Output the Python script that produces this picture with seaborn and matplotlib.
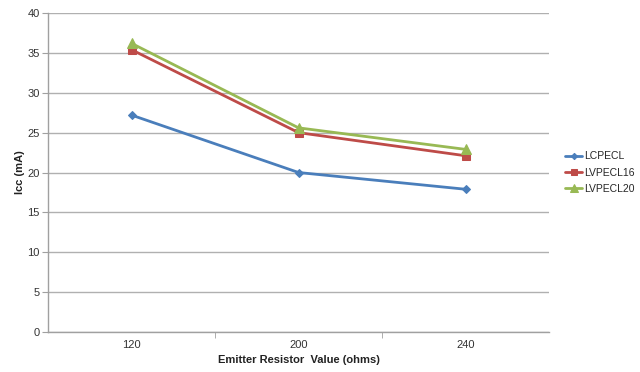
import seaborn as sns
import matplotlib.pyplot as plt
import pandas as pd

sns.set_style('white')
plt.rcParams['font.family'] = ['Liberation Sans', 'DejaVu Sans']

resistors = ['120', '200', '240']
lcpecl = [27.2, 20.0, 17.9]
lvpecl16 = [35.4, 25.0, 22.1]
lvpecl20 = [36.2, 25.6, 22.9]

series = {'LCPECL': lcpecl, 'LVPECL16': lvpecl16, 'LVPECL20': lvpecl20}
rows = []
for name, vals in series.items():
    for i, v in enumerate(vals):
        rows.append({'pos': i, 'Icc': v, 'series': name})
df = pd.DataFrame(rows)

colors = {'LCPECL': '#4A7EBB', 'LVPECL16': '#BE4B48', 'LVPECL20': '#98B954'}
markers = {'LCPECL': 'D', 'LVPECL16': 's', 'LVPECL20': '^'}
msize = {'LCPECL': 4, 'LVPECL16': 6, 'LVPECL20': 6.5}

fig = plt.figure(figsize=(6.4, 3.72), dpi=100)
ax = fig.add_axes([0.075, 0.1075, 0.783, 0.8575])

for name in series:
    sub = df[df.series == name]
    sns.lineplot(data=sub, x='pos', y='Icc', ax=ax, color=colors[name],
                 marker=markers[name], markersize=msize[name], linewidth=2,
                 markeredgecolor=colors[name], label=name)

ax.set_xlim(-0.5, 2.5)
ax.set_ylim(0, 40)
ax.set_yticks(range(0, 41, 5))
ax.set_xticks(range(len(resistors)))
ax.set_xticklabels(resistors)
ax.set_xticks([0.5, 1.5], minor=True)
ax.grid(axis='y', color='#B0B0B0', linewidth=1)
ax.set_axisbelow(True)

for s in ['top', 'right']:
    ax.spines[s].set_visible(False)
for s in ['left', 'bottom']:
    ax.spines[s].set_color('#A0A0A0')
    ax.spines[s].set_linewidth(1)

ax.tick_params(axis='y', which='major', length=4, color='#A0A0A0', labelsize=8,
               labelcolor='#333333', left=True, pad=2)
ax.tick_params(axis='x', which='major', length=0, labelsize=8,
               labelcolor='#333333', pad=6)
ax.tick_params(axis='x', which='minor', length=4, color='#A0A0A0', bottom=True,
               direction='out')

ax.set_xlabel('Emitter Resistor  Value (ohms)', fontsize=8, fontweight='bold',
              color='#222222', labelpad=3)
ax.set_ylabel('Icc (mA)', fontsize=8, fontweight='bold', color='#222222', labelpad=2)

leg = ax.legend(loc='center left', bbox_to_anchor=(1.018, 0.5), frameon=False,
                fontsize=7.5, handlelength=1.6, handletextpad=0.15, labelspacing=0.6,
                markerscale=0.8, borderaxespad=0.3)

fig.savefig('out.png', dpi=100)
